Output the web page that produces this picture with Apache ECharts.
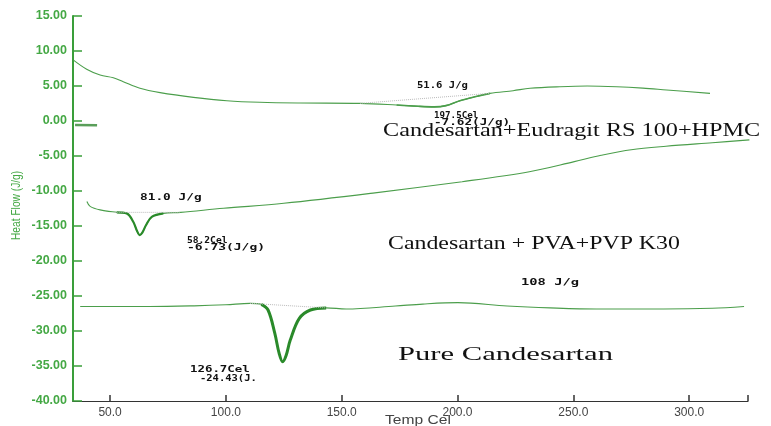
<!DOCTYPE html>
<html>
<head>
<meta charset="utf-8">
<script src="https://cdn.jsdelivr.net/npm/echarts@6/dist/echarts.min.js"></script>
<style>
html,body{margin:0;padding:0;background:#fff;}
#chart{width:771px;height:426px;}
</style>
</head>
<body>
<div id="chart"></div>
<script>
// ---- data ----
var xTicks = [50, 100, 150, 200, 250, 300];
var eudT = [34.2, 39.9, 45.7, 51.4, 55.7, 62.9, 71.6, 86, 100.4, 114.7, 132, 158, 173.7, 183, 190, 195, 201, 208, 214, 224, 231.3, 244.2, 256, 268.7, 280, 290.3, 309];
var eudV = [8.7, 7.4, 6.57, 6.19, 5.62, 4.67, 4.05, 3.38, 2.9, 2.67, 2.57, 2.52, 2.29, 2.1, 2.02, 2.2, 2.9, 3.5, 3.95, 4.33, 4.67, 4.9, 5.0, 4.9, 4.7, 4.43, 3.95];
var eudBaseT = [158, 214];
var eudBaseV = [2.52, 3.95];

var pvaT = [40, 41.4, 45.7, 52.9, 57.2, 60, 61.5, 62.8, 64, 65.5, 68, 73, 80.5, 99, 125, 163.5, 202, 231, 250.4, 262, 275, 290, 310, 326];
var pvaV = [-11.5, -12.2, -12.7, -13.05, -13.2, -14.4, -15.6, -16.3, -15.9, -14.9, -13.7, -13.2, -13.05, -12.47, -11.76, -10.3, -8.67, -7.24, -5.8, -4.9, -4.1, -3.6, -3.1, -2.7];
var pvaBaseT = [52, 80];
var pvaBaseV = [-13.05, -13.05];

var pureT = [37.1, 67, 86.3, 100, 110.4, 115.3, 118.2, 121.1, 123, 124.5, 126, 127.8, 131.7, 136.5, 143.3, 151.9, 173.2, 185, 200.2, 221.4, 240, 260, 289, 310, 323.7];
var pureV = [-26.5, -26.5, -26.4, -26.25, -26.05, -26.2, -27.0, -30.3, -33.2, -34.4, -33.5, -31.3, -28.2, -27.0, -26.7, -26.86, -26.43, -26.15, -25.96, -26.43, -26.7, -26.86, -26.86, -26.75, -26.5];
var pureBaseT = [110.4, 143.3];
var pureBaseV = [-26.05, -26.7];

var stubT = [34.9, 44.4];
var stubV = [-0.57, -0.6];

function pairs(t, v, a, b) {
  var out = [];
  var s = a === undefined ? 0 : a, e = b === undefined ? t.length - 1 : b;
  for (var i = s; i <= e; i++) out.push([t[i], v[i]]);
  return out;
}

var thin = '#4b9e4b', thick = '#2a8a2a';
function line(data, color, width, type, sm) {
  return {type: 'line', data: data, showSymbol: false, smooth: sm === undefined ? 0.35 : sm,
    lineStyle: {color: color, width: width, type: type || 'solid'}, silent: true, z: 3};
}

function txt(x, y, text, font, sx, color, extra) {
  var o = {type: 'text', x: x, y: y, scaleX: sx, silent: true, z: 10,
    style: {text: text, font: font, fill: color || '#111', textAlign: 'left', textVerticalAlign: 'middle'}};
  if (extra) for (var k in extra) o[k] = extra[k];
  return o;
}
var small = 'bold 8px "DejaVu Sans Mono"';
var big = '18px "Liberation Serif"';

var chart = echarts.init(document.getElementById('chart'), null, {renderer: 'canvas'});
chart.setOption({
  animation: false,
  backgroundColor: '#fff',
  grid: {left: 73, right: 23, top: 16, bottom: 25},
  xAxis: {
    type: 'value', min: 34, max: 325.4,
    axisLine: {show: true, onZero: false, lineStyle: {color: '#333', width: 1.2}},
    axisTick: {show: true, inside: true, length: 6, lineStyle: {color: '#333', width: 1.5}, customValues: xTicks.concat([325.4])},
    axisLabel: {color: '#444', fontSize: 12, fontFamily: 'Liberation Sans', margin: 6,
      customValues: xTicks, formatter: function (v) { return v.toFixed(1); }},
    splitLine: {show: false}
  },
  yAxis: {
    type: 'value', min: -40, max: 15, interval: 5,
    axisLine: {show: true, onZero: false, lineStyle: {color: '#3a9e3a', width: 2}},
    axisTick: {show: true, inside: true, length: 9, lineStyle: {color: '#3a9e3a', width: 1.5}},
    axisLabel: {color: '#44a844', fontSize: 12.5, fontWeight: 'bold', fontFamily: 'Liberation Sans', margin: 6,
      formatter: function (v) { return v.toFixed(2); }},
    splitLine: {show: false}
  },
  series: [
    line(pairs(eudT, eudV), thin, 1.1),
    line(pairs(eudT, eudV, 12, 18), thin, 1.6),
    line(pairs(eudBaseT, eudBaseV), '#bbbbbb', 1, 'dotted', false),
    line(pairs(pvaT, pvaV), thin, 1.1),
    line(pairs(pvaT, pvaV, 3, 11), thick, 2.2),
    line(pairs(pvaBaseT, pvaBaseV), '#bbbbbb', 1, 'dotted', false),
    line(pairs(pureT, pureV), thin, 1.2),
    line(pairs(pureT, pureV, 5, 14), thick, 3),
    line(pairs(pureBaseT, pureBaseV), '#bbbbbb', 1, 'dotted', false),
    line(pairs(stubT, stubV), '#5a9e5a', 2.5, 'solid', false)
  ],
  graphic: [
    txt(417, 86, '51.6 J/g', small, 1.32),
    txt(434, 115.5, '197.5Cel', small, 1.15),
    txt(434, 122.5, '-7.62(J/g)', small, 1.58),
    txt(140, 198, '81.0 J/g', small, 1.6),
    txt(187, 241, '58.2Cel', small, 1.2),
    txt(187, 248, '-6.73(J/g)', small, 1.62),
    txt(521, 283, '108 J/g', small, 1.72),
    txt(190, 370, '126.7Cel', small, 1.55),
    txt(200, 379, '-24.43(J.', small, 1.31),
    txt(383, 131, 'Candesartan+Eudragit RS 100+HPMC', big, 1.346),
    txt(388, 244, 'Candesartan + PVA+PVP K30', big, 1.324),
    txt(398, 355, 'Pure Candesartan', big, 1.7),
    txt(385, 421, 'Temp Cel', '12px "Liberation Sans"', 1.3, '#444'),
    txt(17, 240, 'Heat Flow (J/g)', '12px "Liberation Sans"', 0.85, '#44a844', {rotation: Math.PI / 2})
  ]
});
</script>
</body>
</html>
